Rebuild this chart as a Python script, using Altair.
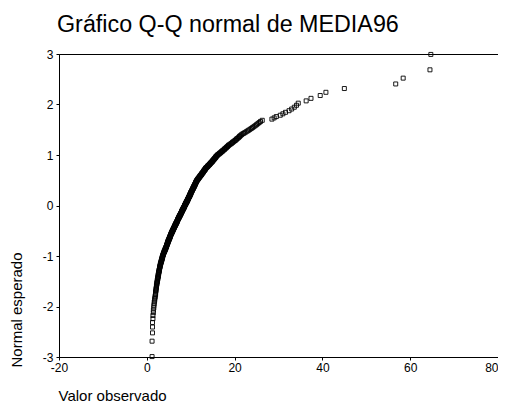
import altair as alt
import pandas as pd

titulo = "Gráfico Q-Q normal de MEDIA96"
eje_x = "Valor observado"
eje_y = "Normal esperado"
x_ticks = [-20, 0, 20, 40, 60, 80]
y_ticks = [-3, -2, -1, 0, 1, 2, 3]

media96 = [
    1.2, 1.2, 1.3, 1.3, 1.3, 1.4, 1.4, 1.5, 1.5, 1.6,
    1.6, 1.7, 1.7, 1.8, 1.8, 1.9,
    1.9, 2.0, 2.0, 2.0, 2.1, 2.1, 2.1, 2.2, 2.2, 2.2, 2.3, 2.3, 2.3, 2.4,
    2.4, 2.4, 2.5, 2.5, 2.5, 2.6, 2.6, 2.6, 2.6, 2.7, 2.7, 2.7, 2.8, 2.8, 2.8, 2.8,
    2.9, 2.9, 2.9, 3.0, 3.0, 3.0,
    3.0, 3.1, 3.1, 3.1, 3.2, 3.2, 3.2, 3.3, 3.3, 3.3, 3.4, 3.4, 3.4, 3.5, 3.5, 3.5,
    3.5, 3.6, 3.6,
    3.6, 3.7, 3.7, 3.7, 3.8, 3.8, 3.8, 3.9, 3.9, 4.0, 4.0, 4.0, 4.1, 4.1, 4.2, 4.2,
    4.2, 4.3, 4.3, 4.3, 4.4, 4.4, 4.5, 4.5,
    4.5, 4.5, 4.6, 4.6, 4.6, 4.7, 4.7, 4.7, 4.8, 4.8, 4.8, 4.8, 4.9, 4.9, 4.9, 5.0,
    5.0, 5.0, 5.1, 5.1, 5.1, 5.2, 5.2, 5.2, 5.3, 5.3, 5.3, 5.3, 5.4, 5.4, 5.4, 5.5,
    5.5, 5.5, 5.6, 5.6, 5.6, 5.7, 5.7, 5.7, 5.8, 5.8, 5.8, 5.9,
    5.9, 5.9, 6.0, 6.0, 6.0, 6.1, 6.1, 6.1, 6.2, 6.2, 6.2, 6.3, 6.3, 6.3, 6.4, 6.4,
    6.4, 6.5, 6.5, 6.5, 6.6, 6.6, 6.6, 6.7, 6.7, 6.7, 6.8, 6.8, 6.8, 6.9, 6.9, 6.9,
    7.0, 7.0, 7.0, 7.0, 7.1, 7.1, 7.1, 7.2, 7.2, 7.2,
    7.3, 7.3, 7.3, 7.4, 7.4, 7.4, 7.5, 7.5, 7.5, 7.6, 7.6, 7.6, 7.7, 7.7, 7.7, 7.8,
    7.8, 7.8, 7.9, 7.9, 7.9, 8.0, 8.0, 8.0, 8.0, 8.1, 8.1, 8.1, 8.2, 8.2, 8.2, 8.3,
    8.3, 8.3, 8.4, 8.4, 8.4, 8.5, 8.5, 8.5, 8.6, 8.6, 8.6, 8.6,
    8.7, 8.7, 8.7, 8.8, 8.8, 8.8, 8.9, 8.9, 8.9, 9.0, 9.0, 9.0, 9.1, 9.1, 9.1, 9.2,
    9.2, 9.2, 9.3, 9.3, 9.3, 9.3, 9.4, 9.4, 9.4, 9.5, 9.5, 9.5, 9.6, 9.6, 9.6, 9.7,
    9.7, 9.7, 9.8, 9.8, 9.8, 9.8, 9.9, 9.9, 9.9, 10.0, 10.0, 10.0, 10.0,
    10.1, 10.1, 10.1, 10.2, 10.2, 10.2, 10.3, 10.3, 10.3, 10.4, 10.4, 10.4, 10.5,
    10.5, 10.5, 10.6, 10.6, 10.6, 10.7, 10.7, 10.7, 10.8, 10.8, 10.8, 10.9, 10.9,
    10.9, 11.0, 11.0, 11.0, 11.1, 11.1, 11.1, 11.2, 11.2, 11.2, 11.3, 11.3, 11.3,
    11.4, 11.4,
    11.5, 11.5, 11.6, 11.6, 11.7, 11.7, 11.8, 11.8, 11.9, 12.0, 12.0, 12.1, 12.1,
    12.2, 12.2, 12.3, 12.4, 12.4, 12.5, 12.5, 12.6, 12.6, 12.7, 12.8, 12.8, 12.9,
    12.9, 13.0, 13.0, 13.1, 13.2, 13.2, 13.3, 13.3, 13.4, 13.4, 13.5,
    13.6, 13.7, 13.8, 13.9, 13.9, 14.0, 14.1, 14.2, 14.3, 14.4, 14.4, 14.5, 14.6,
    14.7, 14.8, 14.9, 14.9, 15.0, 15.1, 15.2, 15.3, 15.3, 15.4, 15.5, 15.6, 15.7,
    15.7, 15.8, 15.9, 16.0, 16.1,
    16.2, 16.4, 16.5, 16.6, 16.8, 16.9, 17.0, 17.2, 17.3, 17.4, 17.6, 17.7, 17.8,
    18.0, 18.1, 18.2, 18.4, 18.5, 18.6,
    18.8, 19.0, 19.2, 19.4, 19.5, 19.7, 19.9, 20.1, 20.3, 20.4, 20.6, 20.8, 21.0,
    21.1, 21.3, 21.5,
    21.7, 22.0, 22.3, 22.6, 22.9, 23.2, 23.5, 23.8, 24.1, 24.4, 24.7, 25.0, 25.3,
    25.6, 25.9,
    26.3, 28.5, 29.0, 29.5, 30.4, 31.0, 31.6, 32.4, 33.0, 33.6, 34.1, 34.5, 36.3,
    37.4, 39.5, 40.8, 45.0, 56.7, 58.4, 64.5, 64.7,
]

df = pd.DataFrame({"MEDIA96": media96})
FONT = "Liberation Sans"
LABEL = "'' + datum.value"

chart = (
    alt.Chart(df)
    .transform_window(rango="row_number()", sort=[alt.SortField("MEDIA96")])
    .transform_joinaggregate(n="count()")
    .transform_calculate(
        esperado="quantileNormal((datum.rango - 0.375) / (datum.n + 0.25))"
    )
    .mark_point(shape="square", size=16, filled=False, color="black",
                strokeWidth=0.9, opacity=1)
    .encode(
        x=alt.X("MEDIA96:Q",
                scale=alt.Scale(domain=[-20, 80], nice=False, zero=False),
                axis=alt.Axis(values=x_ticks, title=eje_x, grid=False,
                              labelExpr=LABEL,
                              labelAlign={"condition": {"test": "datum.value >= 80",
                                                        "value": "right"},
                                          "value": "center"},
                              labelFlush=False, labelOverlap=False,
                              tickSize=3, labelPadding=2,
                              titleAlign="left", titleAnchor="start",
                              titleX=-1, titleY=43, titleBaseline="alphabetic")),
        y=alt.Y("esperado:Q",
                scale=alt.Scale(domain=[-3, 3], nice=False, zero=False),
                axis=alt.Axis(values=y_ticks, title=eje_y, grid=False,
                              labelExpr=LABEL,
                              labelOverlap=False, tickSize=3, labelPadding=3,
                              titleAngle=270, titleAlign="left",
                              titleAnchor="start", titleBaseline="alphabetic",
                              titleX=-38, titleY=313)),
    )
    .properties(
        width=439,
        height=303,
        title=alt.Title(titulo, anchor="start", frame="group", font=FONT,
                        fontSize=23.3, fontWeight="normal", color="black",
                        baseline="alphabetic", offset=14, dx=-2, dy=21),
        autosize=alt.AutoSizeParams(type="none"),
        padding={"left": 51, "top": 46, "right": 0, "bottom": 48},
    )
    .configure_view(stroke="black", strokeWidth=1)
    .configure_axis(
        domainColor="black", tickColor="black", labelColor="black",
        titleColor="black", labelFont=FONT, titleFont=FONT,
        labelFontSize=12, titleFontSize=15, titleFontWeight="normal",
    )
)

chart.save("out.html", embed_options={"renderer": "svg", "actions": False})
